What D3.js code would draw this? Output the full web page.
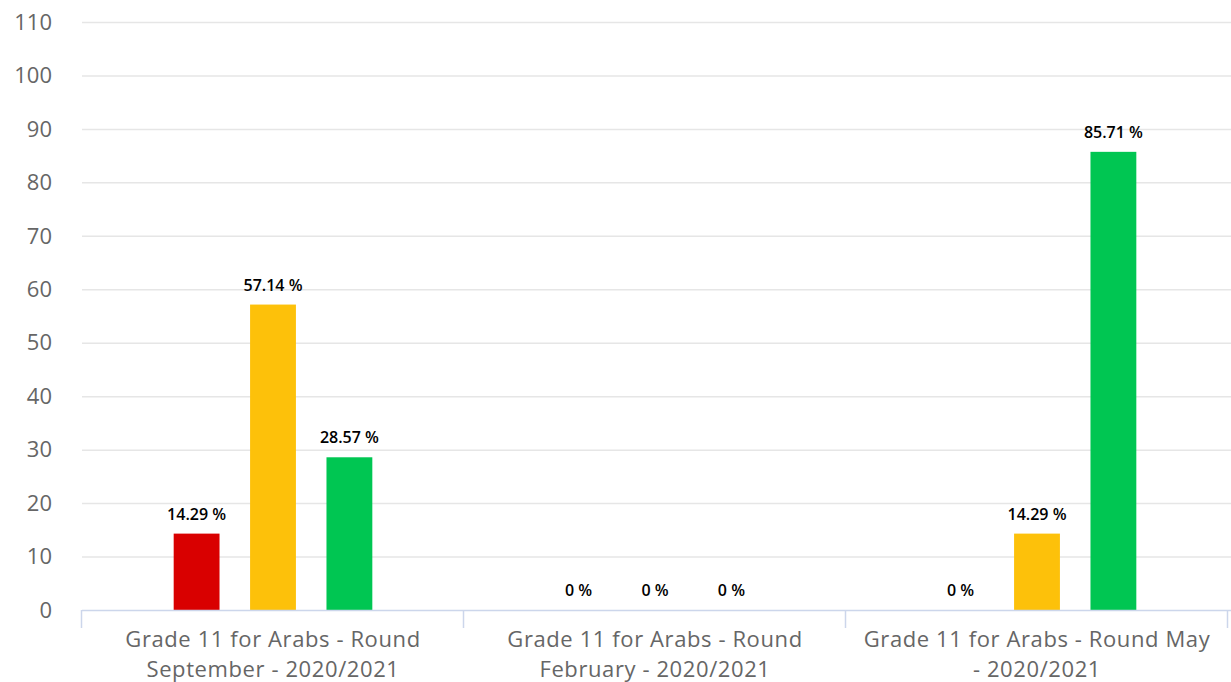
<!DOCTYPE html>
<html><head><meta charset="utf-8">
<script src="https://cdn.jsdelivr.net/npm/d3@7"></script>
<style>body{margin:0;background:#fff}svg{display:block}</style>
</head><body><svg id="c" width="1231" height="682"></svg>
<script>
const categories = [
  ["Grade 11 for Arabs - Round", "September - 2020/2021"],
  ["Grade 11 for Arabs - Round", "February - 2020/2021"],
  ["Grade 11 for Arabs - Round May", "- 2020/2021"]
];
const seriesNames = ["Red", "Yellow", "Green"];
const seriesColors = ["#d90000", "#fdc10a", "#00c652"];
const redValues = [14.29, 0, 0];
const yellowValues = [57.14, 0, 14.29];
const greenValues = [28.57, 0, 85.71];
const yTicks = [0,10,20,30,40,50,60,70,80,90,100,110];

const series = [redValues, yellowValues, greenValues];
const svg = d3.select("#c");
const m = {left: 82, right: 3, top: 22, bottom: 72};
const W = 1231, H = 682;
const x0 = d3.scaleBand().domain(d3.range(categories.length)).range([m.left, W - m.right]).paddingInner(0).paddingOuter(0);
const y = d3.scaleLinear().domain([0, 110]).range([H - m.bottom, m.top]);

const font = "'Open Sans', sans-serif";
// grid
svg.append("g").selectAll("line").data(yTicks.filter(d=>d>0)).join("line")
  .attr("x1", m.left).attr("x2", W).attr("y1", d=>y(d)+0.5).attr("y2", d=>y(d)+0.5)
  .attr("stroke", "#e6e6e6").attr("stroke-width", 1.5);
// y labels
svg.append("g").selectAll("text").data(yTicks).join("text")
  .attr("x", 52).attr("y", d=>y(d)).attr("dy", "0.35em").attr("text-anchor", "end")
  .attr("font-family", font).attr("font-size", 22).attr("fill", "#666").text(d=>d);

const bw = x0.bandwidth();
const gp = 0.2 * bw;
const x1 = d3.scaleBand().domain(d3.range(series.length)).range([gp, bw - gp]).paddingInner(0.4).paddingOuter(0.2);
// bars
series.forEach((vals, si) => {
  const g = svg.append("g");
  g.selectAll("rect").data(vals).join("rect")
    .attr("x", (d,i)=>x0(i) + x1(si)).attr("width", x1.bandwidth())
    .attr("y", d=>y(d)).attr("height", d=>y(0)-y(d)).attr("fill", seriesColors[si]);
  g.selectAll("text").data(vals).join("text")
    .attr("x", (d,i)=>x0(i) + x1(si) + x1.bandwidth()/2)
    .attr("y", d=>y(d) - 14).attr("text-anchor", "middle")
    .attr("font-family", font).attr("font-size", 16).attr("font-weight", 600).attr("fill", "#000")
    .text(d=>d + " %");
});
// x axis
const xa = svg.append("g");
xa.append("line").attr("x1", m.left).attr("x2", W).attr("y1", y(0)+0.5).attr("y2", y(0)+0.5).attr("stroke", "#ccd6eb").attr("stroke-width", 1.5);
const bounds = d3.range(categories.length).map(i=>x0(i)).concat([x0(categories.length-1)+bw]);
xa.selectAll("line.t").data(bounds).join("line").attr("class","t")
  .attr("x1", d=>d-0.5).attr("x2", d=>d-0.5).attr("y1", y(0)).attr("y2", y(0)+18).attr("stroke", "#ccd6eb").attr("stroke-width", 1.5);
categories.forEach((lines, i) => {
  lines.forEach((ln, k) => {
    xa.append("text")
      .attr("x", x0(i) + bw/2).attr("y", 647 + k*30).attr("text-anchor", "middle")
      .attr("font-family", font).attr("font-size", 22).attr("letter-spacing", 0.6).attr("fill", "#666")
      .text(ln);
  });
});
</script></body></html>
